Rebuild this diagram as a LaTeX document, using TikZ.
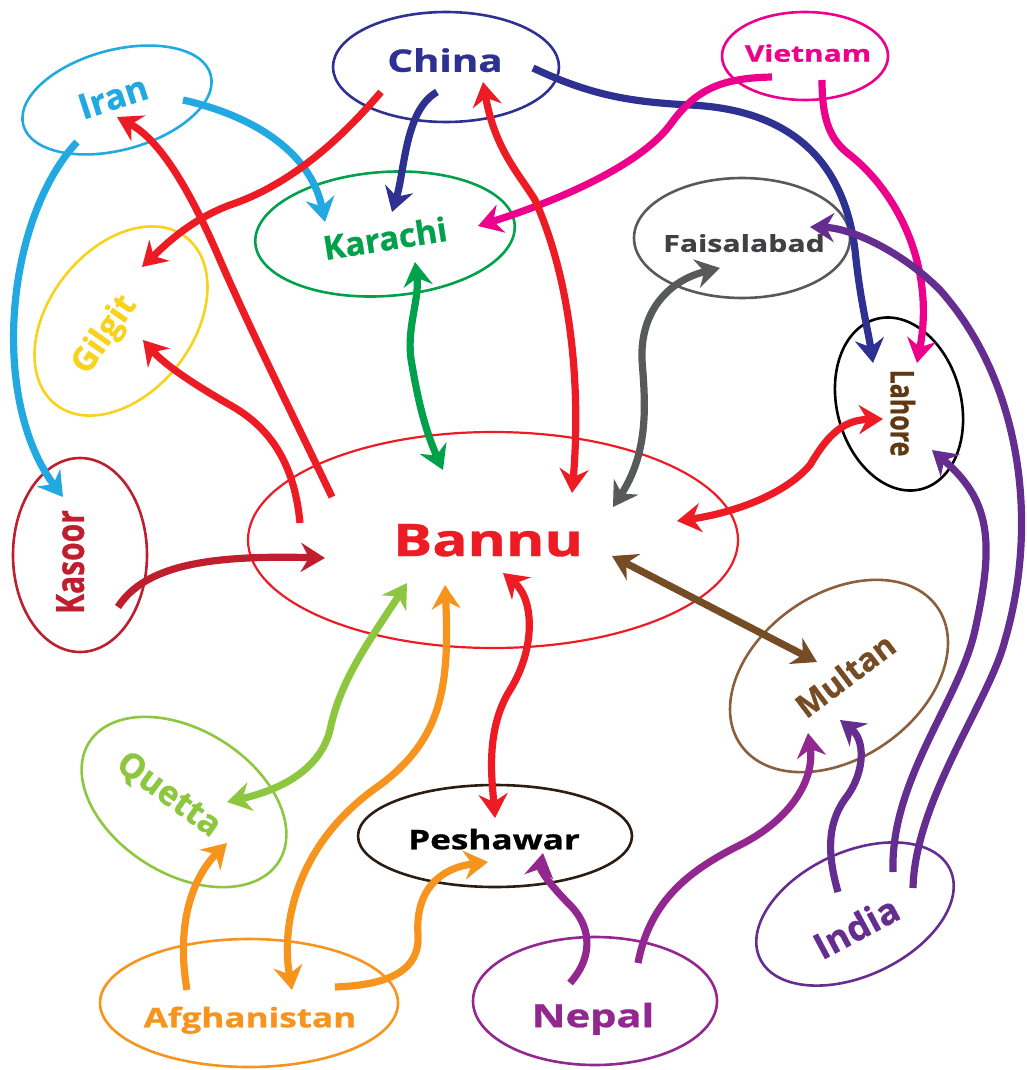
\documentclass[tikz,border=0pt]{standalone}
\usepackage{fontspec}
\setmainfont{Open Sans}[BoldFeatures={FakeBold=0.8}]
\usetikzlibrary{arrows.meta,shapes.geometric}
\definecolor{cIran}{HTML}{22A9E1}
\definecolor{cChina}{HTML}{2E3192}
\definecolor{cViet}{HTML}{EC008C}
\definecolor{cKarachi}{HTML}{00A14B}
\definecolor{cGilgit}{HTML}{F8D21C}
\definecolor{cKasoor}{HTML}{BE1E2D}
\definecolor{cBannu}{HTML}{ED1C24}
\definecolor{cFaisal}{HTML}{58595B}
\definecolor{cFaisalT}{HTML}{414042}
\definecolor{cLahoreT}{HTML}{603913}
\definecolor{cMultan}{HTML}{8B5E3C}
\definecolor{cMultanT}{HTML}{754C24}
\definecolor{cIndia}{HTML}{662D91}
\definecolor{cNepal}{HTML}{92278F}
\definecolor{cPesh}{HTML}{2B1D12}
\definecolor{cAfghan}{HTML}{F7941D}
\definecolor{cQuetta}{HTML}{8DC63F}
\tikzset{
  city/.style={draw, ellipse, line width=2.6pt, inner sep=0pt, outer sep=0pt},
  lbl/.style={font=\bfseries\fontsize{#1}{#1}\selectfont, inner sep=0pt, text depth=0pt},
  wide/.style={xscale=1.3},
  conn/.style={line width=7.2pt, line cap=butt},
  >={Stealth[length=24pt,width=29pt,inset=8pt]}
}
\begin{document}
\begin{tikzpicture}[x=1pt,y=-1pt]
\useasboundingbox (0,0) rectangle (1027,1070);
% ellipses
\node[city, cIran, minimum width=194pt, minimum height=100pt, rotate=15] (iran) at (117,100) {};
\node[city, cChina, minimum width=226pt, minimum height=110pt] (china) at (446,67) {};
\node[city, cViet, minimum width=166pt, minimum height=88pt] (vietnam) at (805,56) {};
\node[city, cKarachi, minimum width=260pt, minimum height=124pt, rotate=4] (karachi) at (385,234) {};
\node[city, cGilgit, minimum width=212pt, minimum height=144pt, rotate=52] (gilgit) at (121,321) {};
\node[city, cFaisal, minimum width=216pt, minimum height=120pt] (faisal) at (742,238) {};
\node[city, black, minimum width=124pt, minimum height=176pt, rotate=15] (lahore) at (899,404) {};
\node[city, cKasoor, minimum width=134pt, minimum height=194pt] (kasoor) at (80,555) {};
\node[city, cBannu, line width=2.2pt, minimum width=490pt, minimum height=216pt] (bannu) at (493,540) {};
\node[city, cMultan, minimum width=240pt, minimum height=164pt, rotate=35] (multan) at (839,676) {};
\node[city, cIndia, minimum width=210pt, minimum height=124pt, rotate=25] (india) at (855,914) {};
\node[city, cQuetta, minimum width=224pt, minimum height=144pt, rotate=-32] (quetta) at (184,802) {};
\node[city, cPesh, minimum width=274pt, minimum height=102pt] (peshawar) at (495,836) {};
\node[city, cAfghan, minimum width=298pt, minimum height=128pt] (afghan) at (249,1003) {};
\node[city, cNepal, minimum width=244pt, minimum height=128pt] (nepal) at (595,1001) {};
% connectors
\draw[conn, cIran, ->] ([shift={(-40,42)}]iran.center) .. controls (5,220) and (-10,400) .. ([shift={(-17,-58)}]kasoor.center);
\draw[conn, cIran, ->] ([shift={(66,0)}]iran.center) .. controls (250,115) and (310,150) .. ([shift={(-60,-12)}]karachi.center);
\draw[conn, cBannu, ->] ([shift={(-65,25)}]china.center) .. controls (340,140) and (290,185) .. (230,205) .. controls (190,220) and (165,245) .. ([shift={(21,-54)}]gilgit.center);
\draw[conn, cChina, ->] ([shift={(-9,25)}]china.center) .. controls (405,110) and (405,170) .. ([shift={(7,-22)}]karachi.center);
\draw[conn, cChina, ->] ([shift={(87,1)}]china.center) .. controls (590,95) and (630,102) .. (690,105) .. controls (800,110) and (845,170) .. (855,250) .. controls (860,300) and (868,330) .. ([shift={(-26,-41)}]lahore.center);
\draw[conn, cViet, ->] ([shift={(-33,21)}]vietnam.center) .. controls (720,78) and (695,90) .. (670,125) .. controls (640,165) and (560,200) .. ([shift={(93,-8)}]karachi.center);
\draw[conn, cViet, ->] ([shift={(17,24)}]vietnam.center) .. controls (822,120) and (830,140) .. (850,155) .. controls (900,195) and (935,270) .. ([shift={(18,-41)}]lahore.center);
\draw[conn, cIndia, ->] ([shift={(58,-26)}]india.center) .. controls (915,800) and (990,700) .. (1005,640) .. controls (1040,520) and (1020,380) .. (940,290) .. controls (900,250) and (850,228) .. ([shift={(68,-11)}]faisal.center);
\draw[conn, cIndia, ->] ([shift={(38,-42)}]india.center) .. controls (890,780) and (960,700) .. (975,630) .. controls (995,540) and (990,500) .. ([shift={(33,46)}]lahore.center);
\draw[conn, cIndia, ->] ([shift={(-17,-22)}]india.center) .. controls (826,850) and (828,820) .. (848,795) .. controls (865,770) and (865,740) .. ([shift={(1,44)}]multan.center);
\draw[conn, cNepal, ->] ([shift={(43,-38)}]nepal.center) .. controls (650,900) and (690,870) .. (740,845) .. controls (790,820) and (815,780) .. ([shift={(-31,57)}]multan.center);
\draw[conn, cNepal, ->] ([shift={(-25,-18)}]nepal.center) .. controls (595,955) and (590,925) .. (570,905) .. controls (550,885) and (540,870) .. ([shift={(48,17)}]peshawar.center);
\draw[conn, cAfghan, ->] ([shift={(86,-16)}]afghan.center) .. controls (390,985) and (420,970) .. (418,935) .. controls (415,890) and (440,868) .. ([shift={(-7,26)}]peshawar.center);
\draw[conn, cAfghan, ->] ([shift={(-62,-13)}]afghan.center) .. controls (175,920) and (195,875) .. ([shift={(43,41)}]quetta.center);
\draw[conn, cAfghan, <->] ([shift={(-48,45)}]bannu.center) .. controls (450,690) and (440,740) .. (380,785) .. controls (300,840) and (280,920) .. ([shift={(43,-13)}]afghan.center);
\draw[conn, cQuetta, <->] ([shift={(-86,43)}]bannu.center) .. controls (370,640) and (340,680) .. (330,730) .. controls (320,770) and (280,790) .. ([shift={(43,0)}]quetta.center);
\draw[conn, cBannu, <->] ([shift={(10,33)}]bannu.center) .. controls (535,600) and (535,650) .. (510,690) .. controls (485,730) and (492,780) .. ([shift={(0,-18)}]peshawar.center);
\draw[conn, cMultanT, <->] ([shift={(119,16)}]bannu.center) -- ([shift={(-22,-14)}]multan.center);
\draw[conn, cBannu, <->] ([shift={(184,-19)}]bannu.center) .. controls (720,515) and (780,500) .. (810,465) .. controls (825,440) and (840,420) .. ([shift={(-16,15)}]lahore.center);
\draw[conn, cFaisal, <->] ([shift={(-22,30)}]faisal.center) .. controls (670,280) and (640,310) .. (642,360) .. controls (645,400) and (650,450) .. ([shift={(120,-33)}]bannu.center);
\draw[conn, cKarachi, <->] ([shift={(30,28)}]karachi.center) .. controls (420,300) and (405,330) .. (412,365) .. controls (418,400) and (425,430) .. ([shift={(-50,-70)}]bannu.center);
\draw[conn, cBannu, <->] ([shift={(37,15)}]china.center) .. controls (495,150) and (520,175) .. (535,200) .. controls (575,290) and (580,400) .. ([shift={(79,-47)}]bannu.center);
\draw[conn, cBannu, ->] ([shift={(-161,-43)}]bannu.center) .. controls (300,430) and (255,340) .. (220,260) .. controls (190,190) and (160,140) .. ([shift={(0,17)}]iran.center);
\draw[conn, cBannu, ->] ([shift={(-193,-17)}]bannu.center) .. controls (295,470) and (275,430) .. (230,405) .. controls (195,385) and (165,365) .. ([shift={(22,19)}]gilgit.center);
\draw[conn, cKasoor, ->] ([shift={(38,52)}]kasoor.center) .. controls (145,565) and (210,555) .. ([shift={(-168,18)}]bannu.center);
% labels
\node[lbl=35, cIran, rotate=18] (tIran) at (113,97) {Iran};
\node[lbl=31, wide, cChina] (tChina) at (445,60) {China};
\node[lbl=23, wide, cViet] (tViet) at (808,53) {Vietnam};
\node[lbl=33, cKarachi, rotate=9] (tKarachi) at (385,238) {Karachi};
\node[lbl=33, cGilgit, rotate=55] (tGilgit) at (102,333) {Gilgit};
\node[lbl=23.3, wide, cFaisalT] (tFaisal) at (744,243) {Faisalabad};
\node[lbl=25, wide, cLahoreT, rotate=-90] (tLahore) at (903,413) {Lahore};
\node[lbl=30, wide, cKasoor, rotate=90] (tKasoor) at (70,562) {Kasoor};
\node[lbl=45, wide, cBannu] (tBannu) at (488,540) {Bannu};
\node[lbl=32, cMultanT, rotate=37] (tMultan) at (845,675) {Multan};
\node[lbl=34, cQuetta, rotate=-36] (tQuetta) at (170,793) {Quetta};
\node[lbl=27, wide, black] (tPesh) at (494,839) {Peshawar};
\node[lbl=27, wide, cAfghan] (tAfghan) at (250,1017) {Afghanistan};
\node[lbl=32, wide, cNepal] (tNepal) at (593,1015) {Nepal};
\node[lbl=36, cIndia, rotate=28] (tIndia) at (856,927) {India};
\end{tikzpicture}
\end{document}
